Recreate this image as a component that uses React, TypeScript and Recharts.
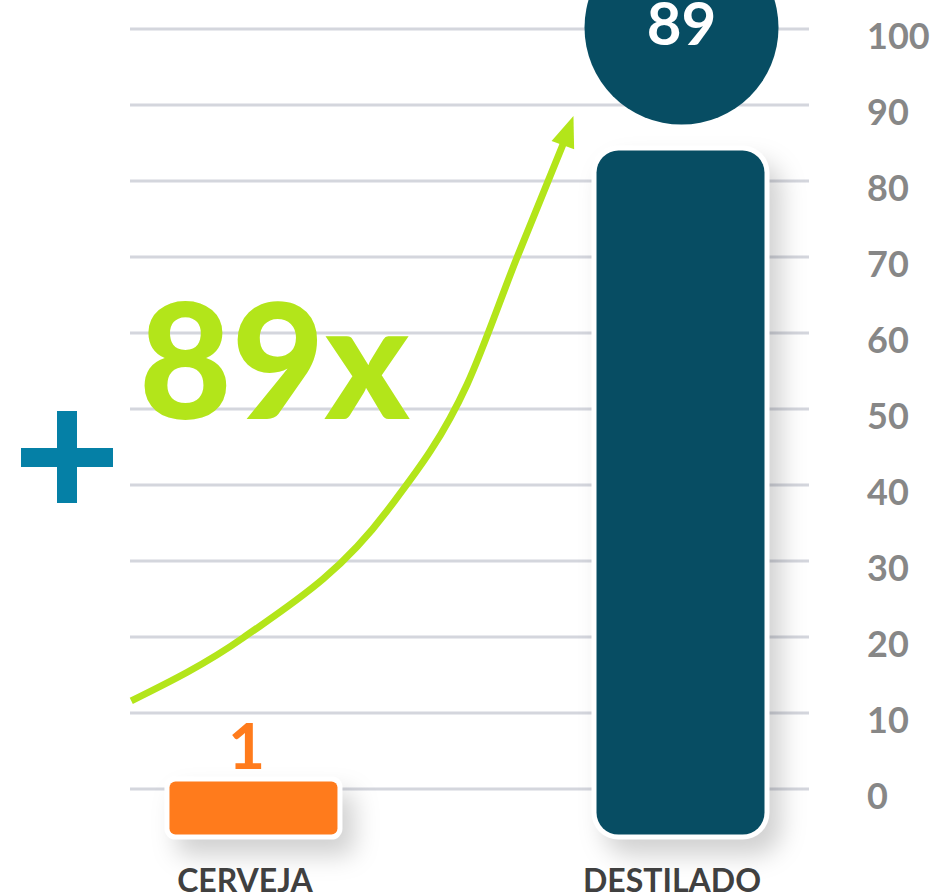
import React from 'react';
import { ComposedChart, Bar, Line, XAxis, YAxis, CartesianGrid } from 'recharts';

// categories sit at x = 1 and x = 2 on a numeric axis so the bars can be off-centre in the grid
const categories = ['CERVEJA', 'DESTILADO'];
const categoryX = [1, 2];
const barBase = [-6, -6];
const barTop = [1, 84];
const barLabels = [1, 89];
const barColors = ['#ff7b1c', '#074d63'];
const yTicks = [0, 10, 20, 30, 40, 50, 60, 70, 80, 90, 100];

// growth arrow, in chart units (x = category position, y = value)
const arrowX = [0.715, 0.977, 1.314, 1.501, 1.618, 1.728];
const arrowY = [11.6, 19.9, 36.6, 53.2, 69.9, 85.1];

const xDomain = [0.712, 2.302];
const yDomain = [-10, 100];

const GREEN = '#b3e51a';
const FONT = "Lato, 'Open Sans', sans-serif";

const barData = categories.map((name, i) => ({
    x: categoryX[i],
    name,
    range: [barBase[i], barTop[i]],
    label: barLabels[i],
    color: barColors[i],
}));

const arrowData = arrowX.map((x, i) => ({ x, y: arrowY[i] }));

const BarShape = (props: any) => {
    const { x, width, payload, index } = props;
    const y = Math.min(props.y, props.y + props.height);
    const height = Math.abs(props.height);
    const r = index === 0 ? 6 : 22;
    const b = 5;
    const cx = x + width / 2;
    return (
        <g>
            <g style={{ filter: 'drop-shadow(12px 16px 12px rgba(0,0,0,0.18))' }}>
                <rect x={x - b} y={y - b} width={width + 2 * b} height={height + 2 * b} rx={r + b} fill="#fff" />
                <rect x={x} y={y} width={width} height={height} rx={r} fill={payload.color} />
            </g>
            {index === 0 ? (
                <text x={cx - 7} y={y - 12} textAnchor="middle" fill={payload.color} fontSize={64} fontWeight={700} fontFamily={FONT}>
                    {payload.label}
                </text>
            ) : (
                <g>
                    <circle cx={cx + 1} cy={y - 123} r={97} fill={payload.color} />
                    <text x={cx + 1} y={y - 106} textAnchor="middle" fill="#fff" fontSize={60} fontWeight={700} fontFamily={FONT}>
                        {payload.label}
                    </text>
                </g>
            )}
        </g>
    );
};

const ArrowHead = (props: any) => {
    const { cx, cy, index } = props;
    if (index !== arrowX.length - 1) return <g key={`a-${index}`} />;
    return (
        <polygon
            key={`a-${index}`}
            points="0,-28 -12,3 12,3"
            transform={`translate(${cx},${cy}) rotate(20)`}
            fill={GREEN}
        />
    );
};

const YTick = ({ x, y, payload }: any) => (
    <text x={x} y={y + 7} dy="0.36em" fill="#878787" fontSize={36} fontWeight={700} fontFamily={FONT}>
        {payload.value}
    </text>
);

const XTick = ({ x, y, payload }: any) => (
    <text x={x - 8} y={y + 27} textAnchor="middle" fill="#404040" fontSize={32} fontWeight={700} fontFamily={FONT}>
        {categories[categoryX.indexOf(payload.value)]}
    </text>
);

export default function App() {
    return (
        <div style={{ position: 'absolute', left: 0, top: 0, width: 936, height: 894, background: '#fff', fontFamily: FONT }}>
            <ComposedChart width={936} height={894} data={barData} margin={{ top: 29, right: 0, bottom: 0, left: 130 }}>
                <CartesianGrid vertical={false} horizontalValues={yTicks} stroke="#d4d6dd" strokeWidth={3} />
                <XAxis
                    dataKey="x"
                    type="number"
                    domain={xDomain}
                    ticks={categoryX}
                    interval={0}
                    height={29}
                    tickSize={0}
                    tickMargin={0}
                    axisLine={false}
                    tickLine={false}
                    tick={<XTick />}
                />
                <XAxis xAxisId="arrow" dataKey="x" type="number" domain={xDomain} hide />
                <YAxis
                    orientation="right"
                    type="number"
                    domain={yDomain}
                    ticks={yTicks}
                    interval={0}
                    width={127}
                    tickSize={0}
                    tickMargin={58}
                    axisLine={false}
                    tickLine={false}
                    tick={<YTick />}
                />
                <Bar dataKey="range" barSize={168} shape={<BarShape />} isAnimationActive={false} />
                <Line
                    xAxisId="arrow"
                    data={arrowData}
                    dataKey="y"
                    type="monotone"
                    stroke={GREEN}
                    strokeWidth={7}
                    dot={ArrowHead}
                    activeDot={false}
                    isAnimationActive={false}
                />
            </ComposedChart>
            {/* annotations */}
            <svg width={936} height={894} style={{ position: 'absolute', left: 0, top: 0, pointerEvents: 'none' }}>
                <rect x={57} y={411} width={20} height={92} fill="#0580a6" />
                <rect x={21} y={448} width={92} height={19} fill="#0580a6" />
                <text x={139} y={419} fill={GREEN} fontSize={160} fontWeight={900} fontFamily={FONT}>
                    89x
                </text>
            </svg>
        </div>
    );
}
